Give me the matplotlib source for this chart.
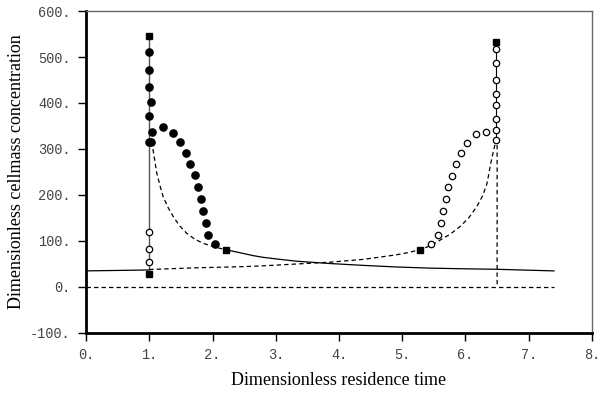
import matplotlib
matplotlib.use("Agg")
import matplotlib.pyplot as plt

# Filled circles (left peak)
fill_x = [1.0, 1.0, 1.0, 1.03, 1.0, 1.04, 1.0, 1.03,
          1.21, 1.37, 1.49, 1.58, 1.65, 1.72, 1.77, 1.82, 1.85, 1.89, 1.93, 2.04]
fill_y = [510, 471, 435, 402, 371, 338, 316, 316,
          348, 335, 315, 291, 267, 243, 217, 191, 166, 140, 114, 93]

# Open circles (left low, right peak)
open_x = [0.99, 1.0, 1.0,
          6.49, 6.49, 6.49, 6.48, 6.49, 6.48, 6.49, 6.48,
          6.33, 6.16, 6.03, 5.93, 5.85, 5.79, 5.73, 5.69, 5.65, 5.61, 5.56, 5.45]
open_y = [55, 83, 119,
          517, 486, 450, 420, 396, 365, 341, 320,
          338, 332, 312, 291, 267, 242, 217, 191, 166, 140, 113, 93]

# Squares
sq_x = [1.0, 1.0, 2.21, 5.28, 6.49]
sq_y = [546, 28, 81, 81, 533]

# Solid curves
solid_left_x = [0.0, 1.0]
solid_left_y = [35, 37]
solid_vert_x = [1.0, 1.0]
solid_vert_y = [28, 546]
solid_decay_x = [2.21, 2.35, 2.5, 2.65, 2.8, 3.07, 3.33, 3.6, 3.86, 4.38, 4.91, 5.44, 6.0, 6.5, 7.0, 7.4]
solid_decay_y = [81, 77, 72.5, 68, 64.5, 60, 56, 53.5, 51, 47, 43.5, 41, 39.5, 38.5, 36.5, 35]
solid_right_x = [6.49, 6.49]
solid_right_y = [320, 533]

# Dashed curves
dash_left_x = [1.04, 1.06, 1.09, 1.12, 1.17, 1.22, 1.3, 1.38, 1.48, 1.59, 1.72, 1.85, 2.03, 2.21]
dash_left_y = [316, 298, 272, 247, 220, 196, 172, 153, 133, 117, 104, 95, 87, 81]
dash_low_x = [1.0, 1.8, 2.43, 2.8, 3.33, 3.86, 4.38, 4.65, 4.91, 5.1, 5.28,
              5.45, 5.6, 5.76, 5.91, 6.05, 6.18, 6.27, 6.34, 6.41, 6.47, 6.5, 6.5]
dash_low_y = [38, 42, 44, 46, 50, 54, 60, 65, 70, 75, 81,
              90, 102, 115, 131, 150, 175, 198, 225, 276, 312, 320, 0]
dash_zero_x = [0.0, 7.4]
dash_zero_y = [0, 0]

x_ticks = [0, 1, 2, 3, 4, 5, 6, 7, 8]
y_ticks = [-100, 0, 100, 200, 300, 400, 500, 600]

fig = plt.figure(figsize=(5.99, 3.93), dpi=100)
ax = fig.add_axes([0.1436, 0.1527, 0.8447, 0.8193])

dash = (0, (3.5, 2.5))
ax.plot(solid_left_x, solid_left_y, color="black", lw=0.9)
ax.plot(solid_vert_x, solid_vert_y, color="#555555", lw=1.0)
ax.plot(solid_decay_x, solid_decay_y, color="black", lw=0.9)
ax.plot(solid_right_x, solid_right_y, color="black", lw=0.8)
ax.plot(dash_left_x, dash_left_y, color="black", lw=0.9, linestyle=dash)
ax.plot(dash_low_x, dash_low_y, color="black", lw=0.9, linestyle=dash)
ax.plot(dash_zero_x, dash_zero_y, color="black", lw=0.9, linestyle=dash)

ax.plot(fill_x, fill_y, linestyle="none", marker="o", ms=5.2,
        mfc="black", mec="black")
ax.plot(open_x, open_y, linestyle="none", marker="o", ms=4.6,
        mfc="white", mec="black", mew=0.9)
ax.plot(sq_x, sq_y, linestyle="none", marker="s", ms=4.8,
        mfc="black", mec="black")

ax.set_xlim(0, 8)
ax.set_ylim(-100, 600)
ax.set_xticks(x_ticks)
ax.set_yticks(y_ticks)
ax.set_xticklabels([f"{v}." for v in x_ticks], family="Liberation Mono", fontsize=9.8, color="#444444")
ax.set_yticklabels([f"{v}." for v in y_ticks], family="Liberation Mono", fontsize=9.8, color="#444444")
ax.tick_params(axis="both", direction="out", length=6, width=1.0, pad=5)

for s in ["left", "bottom"]:
    ax.spines[s].set_linewidth(2.0)
    ax.spines[s].set_color("black")
for s in ["top", "right"]:
    ax.spines[s].set_linewidth(1.0)
    ax.spines[s].set_color("#666666")

ax.set_xlabel("Dimensionless residence time", family="Liberation Serif", fontsize=13, labelpad=7)
ax.set_ylabel("Dimensionless cellmass concentration", family="Liberation Serif", fontsize=13, labelpad=4)

fig.savefig("out.png", dpi=100)
